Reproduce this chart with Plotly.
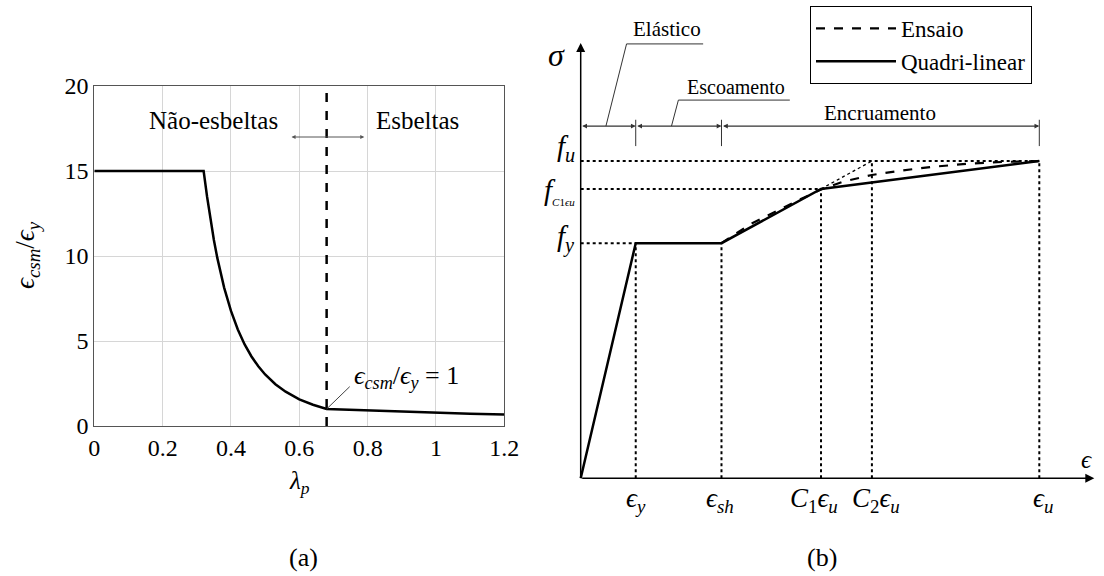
import plotly.graph_objects as go

# ---------------- panel (a) data ----------------
lam_p = [0, 0.32, 0.33, 0.34, 0.35, 0.36, 0.38, 0.40, 0.42, 0.44, 0.46, 0.48,
         0.50, 0.53, 0.56, 0.60, 0.64, 0.68, 0.80, 0.90, 1.0, 1.1, 1.2]
eps_ratio = [15, 15, 13.5, 12.15, 10.94, 9.89, 8.14, 6.77, 5.68, 4.80, 4.09, 3.51,
             3.03, 2.46, 2.02, 1.57, 1.25, 1.0, 0.91, 0.84, 0.78, 0.72, 0.67]
lam_limit = 0.68
limit_span = [0, 20]
x_ticks_a = [0, 0.2, 0.4, 0.6, 0.8, 1.0, 1.2]
x_tick_labels_a = ["0", "0.2", "0.4", "0.6", "0.8", "1", "1.2"]
y_ticks_a = [0, 5, 10, 15, 20]

# ---------------- panel (b) data ----------------
eps_y, eps_sh, c1_eu, c2_eu, eps_u = 1.2, 3.07, 5.24, 6.35, 10.0
f_y, f_c1, f_u = 7.41, 9.12, 10.0
quad_x = [0, eps_y, eps_sh, c1_eu, eps_u]
quad_y = [0, f_y, f_y, f_c1, f_u]
test_x = [3.07, 3.4, 3.7, 4.05, 4.4, 4.8, 5.24, 5.7, 6.35, 7.0, 7.7, 8.5, 9.2, 10.0]
test_y = [7.41, 7.73, 8.01, 8.26, 8.52, 8.80, 9.10, 9.34, 9.56, 9.70, 9.82, 9.92, 9.97, 10.0]
strain_marks = [eps_y, eps_sh, c1_eu, c2_eu, eps_u]
strain_tops = [f_y, f_y, f_c1, f_u, f_u]
strain_label_x = [1.2, 3.04, 5.08, 6.45, 10.07]
strain_labels = ["<i>ϵ<sub>y</sub></i>", "<i>ϵ<sub>sh</sub></i>",
                 "<i>C</i><sub>1</sub><i>ϵ<sub>u</sub></i>",
                 "<i>C</i><sub>2</sub><i>ϵ<sub>u</sub></i>", "<i>ϵ<sub>u</sub></i>"]
stress_marks = [f_y, f_c1, f_u]
stress_ends = [eps_y, c1_eu, eps_u]
stress_label_y = [7.55, 9.05, 10.4]
stress_labels = ["<i>f<sub>y</sub></i>",
                 "<i>f</i><sub><span style='font-size:11px'><i>C</i>1<i>ϵu</i></span></sub>",
                 "<i>f<sub>u</sub></i>"]
dim_level = 11.1
dim_segments = [(0, eps_y), (eps_y, eps_sh), (eps_sh, eps_u)]
phase_labels = ["Elástico", "Escoamento", "Encruamento"]

FONT = "Liberation Serif"
W, H = 1104, 576
XS, YS = 45.86, 31.73        # px per unit in panel (b)
X0, Y0 = 580.7, 478.3        # origin of panel (b) in px
XMIN, XMAX = -1.2, 11.32
YMIN, YMAX = -1.4, 14.6
AX_L, AX_R, AX_T, AX_B = 94.3, 504.3, 86, 426   # panel (a) plot box in px

fig = go.Figure()

fig.add_trace(go.Scatter(x=lam_p, y=eps_ratio, mode="lines",
                         line=dict(color="black", width=2.5),
                         showlegend=False, xaxis="x", yaxis="y"))
fig.add_trace(go.Scatter(x=[lam_limit, lam_limit], y=limit_span, mode="lines",
                         line=dict(color="black", width=2.5, dash="dash"),
                         showlegend=False, xaxis="x", yaxis="y"))

fig.add_trace(go.Scatter(x=test_x, y=test_y, mode="lines", name="Ensaio",
                         line=dict(color="black", width=2.2, dash="dash"),
                         xaxis="x2", yaxis="y2"))
fig.add_trace(go.Scatter(x=quad_x, y=quad_y, mode="lines", name="Quadri-linear",
                         line=dict(color="black", width=2.5),
                         xaxis="x2", yaxis="y2"))
fig.add_trace(go.Scatter(x=[c1_eu, c2_eu], y=[f_c1, f_u], mode="lines",
                         line=dict(color="black", width=1.3, dash="dot"),
                         showlegend=False, xaxis="x2", yaxis="y2"))
for xm, top in zip(strain_marks, strain_tops):
    fig.add_trace(go.Scatter(x=[xm, xm], y=[0, top], mode="lines",
                             line=dict(color="black", width=2, dash="dot"),
                             showlegend=False, xaxis="x2", yaxis="y2"))
for ym, xe in zip(stress_marks, stress_ends):
    fig.add_trace(go.Scatter(x=[0, xe], y=[ym, ym], mode="lines",
                             line=dict(color="black", width=2, dash="dot"),
                             showlegend=False, xaxis="x2", yaxis="y2"))
for xm in [eps_y, eps_sh, eps_u]:
    fig.add_trace(go.Scatter(x=[xm, xm], y=[10.47, dim_level + 0.2], mode="lines",
                             line=dict(color="#333", width=1),
                             showlegend=False, xaxis="x2", yaxis="y2"))
fig.add_trace(go.Scatter(x=[0.55, 1.0, 2.67], y=[dim_level, 13.69, 13.69], mode="lines",
                         line=dict(color="#333", width=1), showlegend=False,
                         xaxis="x2", yaxis="y2"))
fig.add_trace(go.Scatter(x=[1.98, 2.13, 4.56], y=[dim_level, 11.92, 11.92], mode="lines",
                         line=dict(color="#333", width=1), showlegend=False,
                         xaxis="x2", yaxis="y2"))

ann = []
for a, b in dim_segments:
    ann.append(dict(x=b, y=dim_level, ax=a, ay=dim_level, xref="x2", yref="y2",
                    axref="x2", ayref="y2", text="", showarrow=True,
                    arrowside="end+start", arrowhead=2, startarrowhead=2,
                    arrowsize=0.8, startarrowsize=0.8, arrowwidth=1.2, arrowcolor="#333",
                    standoff=0, startstandoff=0))
ann.append(dict(x=0, y=13.72, ax=0, ay=0, xref="x2", yref="y2", axref="x2", ayref="y2",
                text="", showarrow=True, arrowhead=2, arrowsize=1.2, arrowwidth=1.5,
                arrowcolor="black", standoff=0))
ann.append(dict(x=11.2, y=0, ax=0, ay=0, xref="x2", yref="y2", axref="x2", ayref="y2",
                text="", showarrow=True, arrowhead=2, arrowsize=1.2, arrowwidth=1.5,
                arrowcolor="black", standoff=0))
ann.append(dict(x=1.88, y=13.72, xref="x2", yref="y2", text=phase_labels[0], showarrow=False,
                xanchor="center", yanchor="bottom", font=dict(size=21, family=FONT)))
ann.append(dict(x=3.38, y=11.92, xref="x2", yref="y2", text=phase_labels[1], showarrow=False,
                xanchor="center", yanchor="bottom", font=dict(size=20, family=FONT)))
ann.append(dict(x=6.52, y=11.5, xref="x2", yref="y2", text=phase_labels[2], showarrow=False,
                xanchor="center", yanchor="middle", font=dict(size=21, family=FONT)))
ann.append(dict(x=-0.52, y=13.34, xref="x2", yref="y2", text="<i>σ</i>", showarrow=False,
                xanchor="center", yanchor="middle", font=dict(size=32, family=FONT)))
ann.append(dict(x=11.02, y=0.58, xref="x2", yref="y2", text="<i>ϵ</i>", showarrow=False,
                xanchor="center", yanchor="middle", font=dict(size=25, family=FONT)))
for xm, lab in zip(strain_label_x, strain_labels):
    ann.append(dict(x=xm, y=-0.68, xref="x2", yref="y2", text=lab, showarrow=False,
                    xanchor="center", yanchor="middle", font=dict(size=27, family=FONT)))
for ym, lab in zip(stress_label_y, stress_labels):
    ann.append(dict(x=-0.08, y=ym, xref="x2", yref="y2", text=lab, showarrow=False,
                    xanchor="right", yanchor="middle", font=dict(size=29, family=FONT)))

ann.append(dict(x=0.349, y=18, xref="x", yref="y", text="Não-esbeltas", showarrow=False,
                xanchor="center", yanchor="middle", font=dict(size=25, family=FONT)))
ann.append(dict(x=0.947, y=18, xref="x", yref="y", text="Esbeltas", showarrow=False,
                xanchor="center", yanchor="middle", font=dict(size=25, family=FONT)))
ann.append(dict(x=0.79, y=17, ax=0.573, ay=17, xref="x", yref="y", axref="x", ayref="y",
                text="", showarrow=True, arrowside="end+start", arrowhead=2,
                startarrowhead=2, arrowsize=0.8, startarrowsize=0.8, arrowwidth=1,
                arrowcolor="#555", standoff=0, startstandoff=0))
ann.append(dict(x=0.68, y=1.0, ax=0.752, ay=2.4, xref="x", yref="y", axref="x", ayref="y",
                text="", showarrow=True, arrowhead=0, arrowwidth=1, arrowcolor="#444"))
ann.append(dict(x=0.755, y=2.9, xref="x", yref="y", xanchor="left", yanchor="middle",
                text="<i>ϵ<sub>csm</sub></i>/<i>ϵ<sub>y</sub></i> = 1", showarrow=False,
                font=dict(size=26, family=FONT)))
ann.append(dict(x=27 / W, y=1 - 255 / H, xref="paper", yref="paper", textangle=-90,
                xanchor="center", yanchor="middle",
                text="<i>ϵ<sub>csm</sub></i>/<i>ϵ<sub>y</sub></i>", showarrow=False,
                font=dict(size=27, family=FONT)))
ann.append(dict(x=299 / W, y=1 - 482 / H, xref="paper", yref="paper",
                xanchor="center", yanchor="middle",
                text="<i>λ<sub>p</sub></i>", showarrow=False, font=dict(size=25, family=FONT)))
ann.append(dict(x=303 / W, y=1 - 557 / H, xref="paper", yref="paper", text="(a)",
                xanchor="center", yanchor="middle",
                showarrow=False, font=dict(size=26, family=FONT)))
ann.append(dict(x=822 / W, y=1 - 557 / H, xref="paper", yref="paper", text="(b)",
                xanchor="center", yanchor="middle",
                showarrow=False, font=dict(size=26, family=FONT)))

fig.update_layout(
    width=W, height=H,
    margin=dict(l=0, r=0, t=0, b=0, autoexpand=False),
    paper_bgcolor="white", plot_bgcolor="white",
    font=dict(family=FONT, color="black"),
    xaxis=dict(domain=[AX_L / W, AX_R / W], range=[0, 1.2], tickvals=x_ticks_a,
               ticktext=x_tick_labels_a, showgrid=True, gridcolor="#d6d6d6",
               showline=True, mirror=True, linecolor="#555", linewidth=1,
               zeroline=False, ticks="", tickfont=dict(size=24, family=FONT),
               anchor="y", automargin=False),
    yaxis=dict(domain=[1 - AX_B / H, 1 - AX_T / H], range=[0, 20], tickvals=y_ticks_a,
               showgrid=True, gridcolor="#d6d6d6", showline=True, mirror=True,
               linecolor="#555", linewidth=1, zeroline=False, ticks="",
               tickfont=dict(size=24, family=FONT), anchor="x", automargin=False),
    xaxis2=dict(domain=[(X0 + XMIN * XS) / W, (X0 + XMAX * XS) / W], range=[XMIN, XMAX],
                visible=False, anchor="y2", automargin=False),
    yaxis2=dict(domain=[1 - (Y0 - YMIN * YS) / H, 1 - (Y0 - YMAX * YS) / H],
                range=[YMIN, YMAX], visible=False, anchor="x2", automargin=False),
    legend=dict(x=810 / W, y=1 - 6 / H, xanchor="left", yanchor="top",
                bordercolor="black", borderwidth=1, bgcolor="white",
                font=dict(size=23, family=FONT), tracegroupgap=0, itemwidth=80),
    annotations=ann,
)

fig.write_html("out.html")
